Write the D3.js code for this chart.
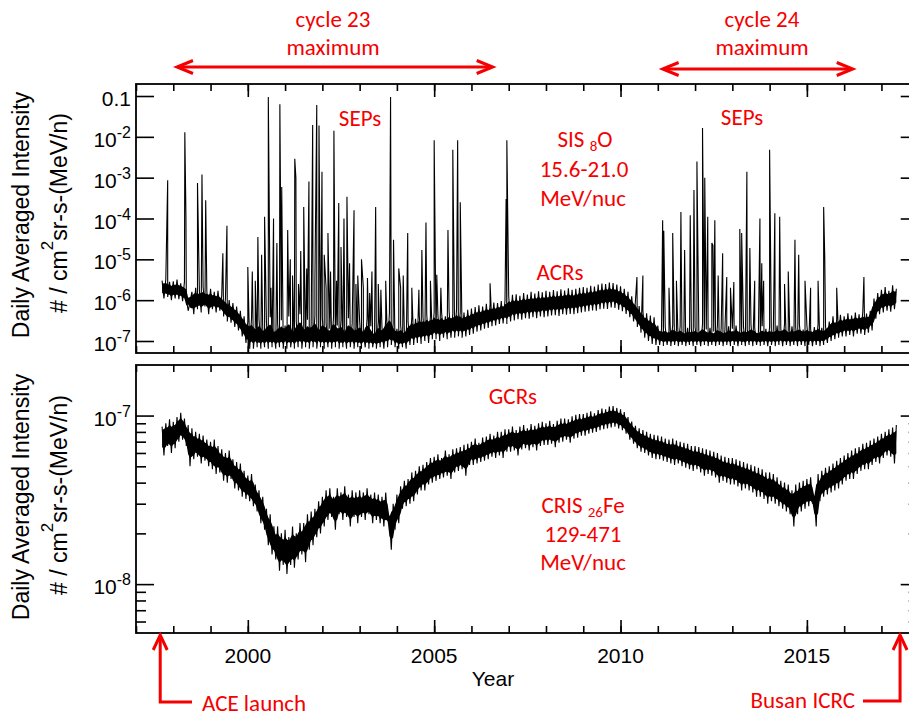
<!DOCTYPE html>
<html>
<head>
<meta charset="utf-8">
<script src="https://cdn.jsdelivr.net/npm/d3@7"></script>
<style>
  html, body { margin: 0; padding: 0; background: #fff; }
  svg { display: block; }
</style>
</head>
<body>
<svg id="chart" width="909" height="716"></svg>
<script>
// ---- Data -------------------------------------------------------------
// Daily-averaged series, one sample every 0.05 yr from startYear.
const startYear = 1997.70;
const stepYears = 0.05;

// SIS oxygen 15.6-21.0 MeV/nuc background, in units of 1e-8 #/cm2 sr s MeV/n
const sisOxygen = [
  300,110,330,120,280,100,
  290,110,320,105,260,95,280,110,55,90,160,45,200,60,180,50,210,70,170,45,
  190,60,160,50,170,55,130,40,110,30,100,28,85,22,70,18,55,13,40,9,
  30,6.5,36,6.5,22,7,34,6.5,20,7,28,6.5,38,7,18,6.5,26,7,32,6.5,
  24,6.5,40,7,17,6.5,30,7,45,6.5,21,7,33,6.5,26,7,42,6.5,19,7,
  36,6.5,28,7,20,6.5,40,7,24,6.5,32,7,18,6.5,36,7,27,6.5,22,7,
  31,6.5,17,7,36,6.5,23,7,15,6.5,30,7,21,6.5,34,7,50,8,26,7,
  20,6.5,25,7,16,6.5,30,8,38,8,35,9,44,8.5,38,10,46,9,41,11,
  52,11,44,10,50,12,40,11,55,12,47,12,60,13,52,12,50,13,58,14,
  62,15,68,17,75,18,70,20,82,21,78,23,88,24,85,26,95,27,98,26,
  125,30,135,32,140,34,128,33,150,36,138,35,160,38,145,36,165,40,155,38,
  170,40,160,42,178,43,165,41,185,45,172,44,195,46,180,45,190,48,200,50,
  210,52,200,54,225,56,215,55,240,60,255,62,248,61,270,66,262,64,240,58,
  220,54,190,46,160,38,125,30,95,22,72,16,56,12,48,10,42,8.5,38,8,
  24,8,20,7.5,22,8,18,7.5,25,8,19,7.5,23,8,17,7.5,21,8,20,7.5,
  22,8,18,7.5,26,8,19,7.5,21,8,17,7.5,24,8,20,7.5,18,8,23,7.5,
  20,8,24,7.5,18,8,22,7.5,19,8,25,7.5,21,8,17,7.5,23,8,20,7.5,
  22,8,19,7.5,24,8,20,7.5,26,8,18,7.5,23,8,21,7.5,25,8,19,7.5,
  24,8,20,7.5,22,8,26,7.5,21,8,23,9,30,10,40,11,34,12,44,13,
  40,13,48,14,42,13,50,15,45,15,52,14,47,16,55,18,110,35,150,45,
  180,50,210,55,170,52,230,60,190
];

// Solar energetic particle events: onset year and peak intensity
const sepYears = [
  1997.85,1998.31,1998.34,1998.65,1998.77,1998.87,1999.33,1999.44,
  2000.00,2000.12,2000.27,2000.37,2000.45,2000.55,2000.69,2000.78,2000.86,2000.91,
  2001.07,2001.14,2001.26,2001.29,2001.42,2001.50,2001.58,2001.64,2001.74,2001.85,2001.91,2001.99,
  2002.05,2002.15,2002.22,2002.31,2002.44,2002.50,2002.58,2002.66,2002.73,2002.85,2002.95,
  2003.05,2003.21,2003.33,2003.43,2003.57,2003.70,2003.83,2003.91,
  2004.05,2004.17,2004.29,2004.59,2004.67,2004.78,2004.90,
  2005.00,2005.07,2005.18,2005.37,2005.50,2005.63,2005.70,
  2006.50,2006.93,2006.95,
  2010.44,2010.60,
  2011.13,2011.16,2011.40,2011.62,2011.72,2011.87,2011.97,
  2012.05,2012.20,2012.26,2012.34,2012.45,2012.48,2012.53,2012.74,2012.85,
  2013.04,2013.20,2013.25,2013.39,2013.47,2013.74,2013.79,2013.84,
  2014.00,2014.14,2014.27,2014.68,2014.78,2014.95,
  2015.45,2015.48,2015.80,2016.53,
  // weaker events
  2000.20,2000.62,2001.20,2001.36,2001.80,2002.10,2002.38,2002.90,
  2003.10,2003.27,2003.50,2004.10,2004.40,
  2011.30,2011.50,2012.62,2012.95,2013.60,2014.40,2014.50,2015.10,2015.30
];
const sepPeaks = [
  8.7e-4,1.3e-2,1.1e-4,7.4e-4,1.2e-3,2.8e-4,1.4e-5,6.6e-5,
  6.5e-6,5e-6,3.5e-5,1.3e-5,1.1e-4,9.5e-2,1.0e-4,2.5e-5,6.3e-2,5.9e-4,
  5.2e-5,1e-5,2.9e-3,1.0e-3,1.6e-5,1.9e-4,6e-6,8e-4,1.95e-2,6e-2,1.9e-2,1.4e-3,
  1.3e-5,4.4e-5,5e-6,1.4e-2,2.4e-4,2e-5,1e-4,3.4e-4,8e-6,1.6e-4,4e-6,
  1e-5,3.5e-6,5e-6,1.9e-4,1.8e-6,3e-6,9.5e-2,3e-5,
  6e-6,4e-6,4.4e-5,1.8e-6,1.7e-5,8e-5,3e-6,
  8.3e-3,4.2e-6,2e-6,5.2e-5,4.8e-3,8.3e-3,2.5e-4,
  2.6e-6,3e-4,8.3e-3,
  3.7e-6,4e-6,
  9e-5,5e-5,4.4e-5,1.45e-4,1.7e-5,1.2e-4,5e-4,
  2.5e-3,1.65e-2,1e-3,1.1e-4,2.5e-5,2.2e-5,9e-5,1.4e-5,3.7e-6,
  2.8e-6,5.5e-5,4.4e-5,1.4e-3,1.9e-5,1e-4,8e-6,3e-6,
  4.8e-3,1.35e-4,1.1e-4,3e-5,1.3e-5,3e-6,
  1.9e-4,1.05e-5,2e-6,3.7e-6,
  3e-6,2e-6,4e-6,2.5e-6,3e-6,2e-6,3e-6,2.5e-6,
  2e-6,1.5e-6,2.5e-6,2e-6,2e-6,
  2e-6,3e-6,4e-6,2e-6,3e-6,2.5e-6,5e-6,2e-6,3e-6
];

// CRIS iron 129-471 MeV/nuc, in units of 1e-9 #/cm2 sr s MeV/n
const crisIron = [
  86,58,90,66,95,60,
  92,64,98,70,104,72,96,66,88,50,84,55,80,57,78,52,76,54,72,50,
  70,48,72,45,66,46,63,41,60,40,62,42,55,37,53,36,52,33,47,32,
  44,31,45,29,39,27,36,23,33,21,28,17,26,15,22,14,22,12,20,13,
  21,11.5,19,13,22,12.5,20,14,23,15,23,13.5,26,16,27,17,28,19,31,20,
  33,22,36,24,37,25,33,21,37,26,35,24,38,25,34,22,36,25,35,23,
  36,25,35,24,37,26,34,23,35,24,34,23,33,22,35,24,25,16,30,21,
  34,23,38,28,41,29,42,30,46,31,47,34,50,36,51,36,53,39,56,40,
  57,41,59,42,56,43,62,44,59,42,63,46,64,47,65,48,67,44,68,51,
  70,51,73,52,69,53,74,54,75,55,78,57,76,56,80,58,80,56,83,61,
  83,61,86,62,82,58,86,63,88,64,84,62,89,65,87,62,90,66,92,67,
  90,67,93,68,89,65,93,69,96,70,96,72,95,69,99,73,101,74,102,76,
  102,76,104,78,106,79,103,80,108,82,110,83,109,84,113,85,114,86,111,84,
  109,82,105,78,98,72,92,68,87,64,84,61,82,60,80,58,78,56,77,55,
  76,55,75,54,73,53,72,52,73,51,71,52,70,50,69,49,68,48,66,47,
  66,48,65,46,64,44,63,45,62,44,61,43,60,40,58,41,57,40,56,39,
  56,39,55,38,54,36,53,37,52,36,51,35,50,33,49,33,48,32,46,30,
  46,31,45,30,43,29,41,28,40,27,39,26,36,22,39,26,40,27,41,28,
  42,29,43,30,33,22,45,31,47,33,49,34,50,35,52,36,54,37,56,39,
  58,41,60,42,62,42,64,45,65,47,68,48,69,48,71,51,73,53,75,52,
  78,56,80,58,83,57,85,52,88
];

// Axis ticks
const yearDomain = [1997, 2018];
const majorYears = [2000, 2005, 2010, 2015];
const minorYears = d3.range(1997, 2019);
const topDecades = [1e-1, 1e-2, 1e-3, 1e-4, 1e-5, 1e-6, 1e-7];
const topDecadeLabels = ["0.1", "-2", "-3", "-4", "-5", "-6", "-7"];
const bottomDecades = [1e-7, 1e-8];
const bottomDecadeLabels = ["-7", "-8"];
const bottomMinor = [9e-8, 8e-8, 7e-8, 6e-8, 5e-8, 4e-8, 3e-8, 2e-8, 9e-9, 8e-9, 7e-9, 6e-9];

// Annotated epochs
const cycle23Span = [1998.1, 2006.57];
const cycle24Span = [2011.13, 2016.23];
const aceLaunch = 1997.65;
const busanIcrc = 2017.5;

// ---- Layout -----------------------------------------------------------
const svg = d3.select("#chart");
const plotLeft = 136, plotRight = 918.7;
const topPanel = { top: 84, bottom: 353 };
const botPanel = { top: 365, bottom: 633 };
const red = "#f50000";
const redFont = "Carlito, Lato, 'Open Sans', sans-serif";
const blackFont = "'Liberation Sans', Arial, sans-serif";

const x = d3.scaleLinear().domain(yearDomain).range([plotLeft, plotRight]);
const yTop = d3.scaleLog().domain([Math.pow(10, -7.294), Math.pow(10, -0.706)]).range([topPanel.bottom, topPanel.top]);
const yBot = d3.scaleLog().domain([Math.pow(10, -8.29), Math.pow(10, -6.70)]).range([botPanel.bottom, botPanel.top]);

// ---- Series -----------------------------------------------------------
const sisPoints = sisOxygen.map((v, i) => ({ t: startYear + i * stepYears, v: v * 1e-8 }));
sepYears.forEach((t, i) => sisPoints.push({ t: t, v: sepPeaks[i] }));
sisPoints.sort((a, b) => a.t - b.t);

const crisPoints = crisIron.map((v, i) => ({ t: startYear + i * stepYears, v: v * 1e-9 }));

// Dense core of the day-to-day scatter: local min/max of neighbouring
// samples, pulled part-way toward the local log mean so the individual
// excursions still show as hairs beyond the core.
function scatterCore(series, unit, shrink) {
  const logs = series.map(v => Math.log10(v * unit));
  return logs.map((l, i) => {
    const w3 = logs.slice(Math.max(0, i - 1), i + 2);
    const w5 = logs.slice(Math.max(0, i - 2), i + 3);
    const c = d3.mean(w5);
    return {
      t: startYear + i * stepYears,
      lo: Math.pow(10, c + shrink * (d3.min(w3) - c)),
      hi: Math.pow(10, c + shrink * (d3.max(w3) - c))
    };
  });
}

const defs = svg.append("defs");
[["clipTop", topPanel], ["clipBot", botPanel]].forEach(([id, p]) => {
  defs.append("clipPath").attr("id", id).append("rect")
    .attr("x", plotLeft).attr("y", p.top)
    .attr("width", plotRight - plotLeft).attr("height", p.bottom - p.top);
});

svg.append("path").datum(scatterCore(sisOxygen, 1e-8, 0.55))
  .attr("clip-path", "url(#clipTop)").attr("fill", "#000")
  .attr("d", d3.area().x(d => x(d.t)).y0(d => yTop(d.lo)).y1(d => yTop(d.hi)));
svg.append("path").datum(sisPoints)
  .attr("clip-path", "url(#clipTop)")
  .attr("fill", "none").attr("stroke", "#000").attr("stroke-width", 1.1)
  .attr("d", d3.line().x(d => x(d.t)).y(d => yTop(d.v)));

svg.append("path").datum(scatterCore(crisIron, 1e-9, 0.6))
  .attr("clip-path", "url(#clipBot)").attr("fill", "#000")
  .attr("d", d3.area().x(d => x(d.t)).y0(d => yBot(d.lo)).y1(d => yBot(d.hi)));
svg.append("path").datum(crisPoints)
  .attr("clip-path", "url(#clipBot)")
  .attr("fill", "none").attr("stroke", "#000").attr("stroke-width", 1.1)
  .attr("d", d3.line().x(d => x(d.t)).y(d => yBot(d.v)));

// ---- Axes -------------------------------------------------------------
function styleAxis(g) {
  g.select(".domain").remove();
  g.selectAll(".tick line").attr("stroke", "#000").attr("stroke-width", 1.6);
  g.selectAll(".tick text").remove();
}

[topPanel, botPanel].forEach(p => {
  // year ticks, pointing into the panel from top and bottom
  svg.append("g").attr("transform", `translate(0,${p.bottom})`)
    .call(d3.axisBottom(x).tickValues(minorYears).tickSizeInner(-7).tickSizeOuter(0)).call(styleAxis);
  svg.append("g").attr("transform", `translate(0,${p.bottom})`)
    .call(d3.axisBottom(x).tickValues(majorYears).tickSizeInner(-13).tickSizeOuter(0)).call(styleAxis);
  svg.append("g").attr("transform", `translate(0,${p.top})`)
    .call(d3.axisTop(x).tickValues(minorYears).tickSizeInner(-7).tickSizeOuter(0)).call(styleAxis);
  svg.append("g").attr("transform", `translate(0,${p.top})`)
    .call(d3.axisTop(x).tickValues(majorYears).tickSizeInner(-13).tickSizeOuter(0)).call(styleAxis);
});

// intensity ticks
svg.append("g").attr("transform", `translate(${plotLeft},0)`)
  .call(d3.axisLeft(yTop).tickValues(topDecades).tickSizeInner(-18).tickSizeOuter(0)).call(styleAxis);
svg.append("g").attr("transform", `translate(${plotRight},0)`)
  .call(d3.axisRight(yTop).tickValues(topDecades).tickSizeInner(-18).tickSizeOuter(0)).call(styleAxis);
svg.append("g").attr("transform", `translate(${plotLeft},0)`)
  .call(d3.axisLeft(yBot).tickValues(bottomDecades).tickSizeInner(-18).tickSizeOuter(0)).call(styleAxis);
svg.append("g").attr("transform", `translate(${plotRight},0)`)
  .call(d3.axisRight(yBot).tickValues(bottomDecades).tickSizeInner(-18).tickSizeOuter(0)).call(styleAxis);
svg.append("g").attr("transform", `translate(${plotLeft},0)`)
  .call(d3.axisLeft(yBot).tickValues(bottomMinor).tickSizeInner(-10).tickSizeOuter(0)).call(styleAxis);
svg.append("g").attr("transform", `translate(${plotRight},0)`)
  .call(d3.axisRight(yBot).tickValues(bottomMinor).tickSizeInner(-10).tickSizeOuter(0)).call(styleAxis);

// panel frames
[topPanel, botPanel].forEach(p => {
  svg.append("rect")
    .attr("x", plotLeft).attr("y", p.top)
    .attr("width", plotRight - plotLeft).attr("height", p.bottom - p.top)
    .attr("fill", "none").attr("stroke", "#000").attr("stroke-width", 1.8);
});

// decade labels
function decadeLabel(yPos, label) {
  const t = svg.append("text")
    .attr("x", 131).attr("y", yPos + 10)
    .attr("text-anchor", "end")
    .style("font-family", blackFont).style("font-size", "21px").attr("fill", "#000");
  if (label === "0.1") {
    t.text("0.1");
  } else {
    t.append("tspan").text("10");
    t.append("tspan").attr("dy", -9).style("font-size", "16px").text(label);
  }
}
topDecades.forEach((d, i) => decadeLabel(yTop(d), topDecadeLabels[i]));
bottomDecades.forEach((d, i) => decadeLabel(yBot(d), bottomDecadeLabels[i]));

// year labels
majorYears.forEach(yr => {
  svg.append("text").attr("x", x(yr)).attr("y", 663)
    .attr("text-anchor", "middle")
    .style("font-family", blackFont).style("font-size", "21px")
    .text(yr);
});
svg.append("text").attr("x", 493).attr("y", 686)
  .attr("text-anchor", "middle")
  .style("font-family", blackFont).style("font-size", "21px")
  .text("Year");

// intensity axis titles
function yTitle(cy) {
  svg.append("text")
    .attr("transform", `translate(29,${cy}) rotate(-90)`)
    .attr("text-anchor", "middle")
    .style("font-family", blackFont).style("font-size", "23px")
    .text("Daily Averaged Intensity");
  const t = svg.append("text")
    .attr("transform", `translate(67,${cy - 2}) rotate(-90)`)
    .attr("text-anchor", "middle")
    .style("font-family", blackFont).style("font-size", "23px");
  t.append("tspan").text("# / cm");
  t.append("tspan").attr("dy", -14).style("font-size", "17px").text("2");
  t.append("tspan").attr("dy", 14).text("sr-s-(MeV/n)");
}
yTitle(215);
yTitle(497);

// ---- Annotations ------------------------------------------------------
function redLabel(xp, yp, text, anchor) {
  return svg.append("text").attr("x", xp).attr("y", yp)
    .attr("text-anchor", anchor || "middle")
    .style("font-family", redFont).style("font-size", "23px")
    .attr("fill", red).text(text);
}
function redSubLabel(xp, yp, before, sub, after) {
  const t = svg.append("text").attr("x", xp).attr("y", yp)
    .attr("text-anchor", "middle")
    .style("font-family", redFont).style("font-size", "23px")
    .attr("fill", red);
  t.append("tspan").text(before);
  t.append("tspan").attr("dy", 4).style("font-size", "15px").text(sub);
  t.append("tspan").attr("dy", -4).text(after);
}

const arrows = svg.append("g").attr("stroke", red).attr("stroke-width", 3)
  .attr("fill", "none").attr("stroke-linejoin", "miter");

function doubleArrow(span, yp) {
  const x1 = x(span[0]), x2 = x(span[1]);
  arrows.append("line").attr("x1", x1 + 1).attr("x2", x2 - 1).attr("y1", yp).attr("y2", yp);
  arrows.append("path").attr("d", `M${x1 + 16},${yp - 6.5}L${x1},${yp}L${x1 + 16},${yp + 6.5}`);
  arrows.append("path").attr("d", `M${x2 - 16},${yp - 6.5}L${x2},${yp}L${x2 - 16},${yp + 6.5}`);
}
doubleArrow(cycle23Span, 67);
doubleArrow(cycle24Span, 69);

redLabel(333, 27, "cycle 23");
redLabel(333, 55, "maximum");
redLabel(762, 27, "cycle 24");
redLabel(762, 55, "maximum");

// launch and conference markers below the time axis
function elbowArrow(xp, tipY, cornerY, tailX) {
  arrows.append("path").attr("d", `M${tailX},${cornerY}L${xp},${cornerY}L${xp},${tipY + 1}`);
  arrows.append("path").attr("d", `M${xp - 7},${tipY + 15}L${xp},${tipY}L${xp + 7},${tipY + 15}`);
}
elbowArrow(x(aceLaunch), 635, 702, 192);
elbowArrow(x(busanIcrc), 635, 701, 863);
redLabel(202, 711, "ACE launch", "start");
redLabel(855, 708, "Busan ICRC", "end");

// panel annotations
redLabel(360, 126, "SEPs");
redLabel(742, 125, "SEPs");
redSubLabel(585, 147, "SIS ", "8", "O");
redLabel(584, 177, "15.6-21.0");
redLabel(583, 206, "MeV/nuc");
redLabel(560, 280, "ACRs");
redLabel(513, 404, "GCRs");
redSubLabel(583, 513, "CRIS ", "26", "Fe");
redLabel(583, 542, "129-471");
redLabel(583, 570, "MeV/nuc");
</script>
</body>
</html>
